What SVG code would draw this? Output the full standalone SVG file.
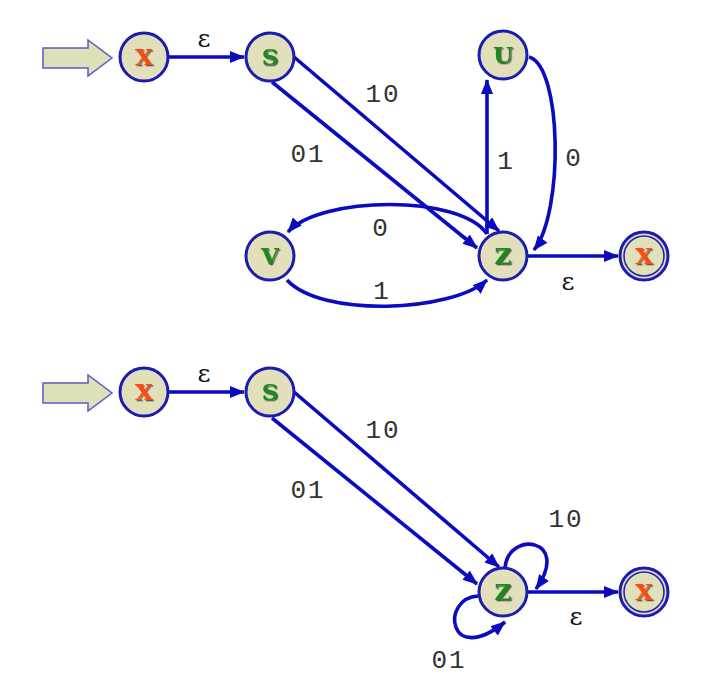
<svg xmlns="http://www.w3.org/2000/svg" width="716" height="678" viewBox="0 0 716 678">
<style>
.node{fill:#e2e0ba;stroke:#1c1cb0;stroke-width:3}
.fin{fill:none;stroke:#1c1cb0;stroke-width:1.5}
.edge{fill:none;stroke:#0a0ac0;stroke-width:3.6}
.lx{font-family:"DejaVu Serif",serif;font-weight:bold;font-size:23px;text-anchor:middle;fill:#ff4a10;filter:url(#ds)}
.lg{font-family:"DejaVu Serif",serif;font-weight:bold;font-size:23px;text-anchor:middle;fill:#1e8c1e;filter:url(#ds)}
.num{font-family:"Liberation Mono",monospace;font-size:26px;fill:#333;text-anchor:middle;letter-spacing:2px}
.eps{font-family:"DejaVu Serif",serif;font-size:25px;fill:#111;text-anchor:middle}
.inp{fill:#dfe0b8;stroke:#5a5ac8;stroke-width:1.5}
</style>
<defs>
<filter id="ds" x="-30%" y="-30%" width="160%" height="160%">
<feDropShadow dx="1.3" dy="1.3" stdDeviation="0.4" flood-color="#333" flood-opacity="0.8"/>
</filter>
<marker id="ah" markerUnits="userSpaceOnUse" markerWidth="16" markerHeight="14" refX="14" refY="6" orient="auto">
<path d="M0,0 L15,6 L0,12 z" fill="#0a0ac0"/>
</marker>
</defs>
<g id="connectors">
<path class="edge" d="M168,57 L244,57" marker-end="url(#ah)"/>
<path class="edge" d="M294,57 L499,231" marker-end="url(#ah)"/>
<path class="edge" d="M272,82 L477,248" marker-end="url(#ah)"/>
<path class="edge" d="M487,234 L487,80" marker-end="url(#ah)"/>
<path class="edge" d="M529,57 C562,66 564,212 534,250" marker-end="url(#ah)"/>
<path class="edge" d="M487,234 C460,194 320,196 288,232" marker-end="url(#ah)"/>
<path class="edge" d="M287,280 C322,318 452,312 487,280" marker-end="url(#ah)"/>
<path class="edge" d="M527,256 L618,256" marker-end="url(#ah)"/>
<path class="edge" d="M168,392 L244,392" marker-end="url(#ah)"/>
<path class="edge" d="M294,392 L499,567" marker-end="url(#ah)"/>
<path class="edge" d="M272,418 L477,584" marker-end="url(#ah)"/>
<path class="edge" d="M505,568 C508,530 572,538 536,589" marker-end="url(#ah)"/>
<path class="edge" d="M478,596 C440,598 448,668 505,622" marker-end="url(#ah)"/>
<path class="edge" d="M527,592 L618,592" marker-end="url(#ah)"/>
<g>
<text class="eps" x="204" y="47">ε</text>
<text class="num" x="383" y="102">10</text>
<text class="num" x="308" y="162">01</text>
<text class="num" x="506" y="169">1</text>
<text class="num" x="574" y="166">0</text>
<text class="num" x="381" y="236">0</text>
<text class="num" x="382" y="299">1</text>
<text class="eps" x="568" y="290">ε</text>
<text class="eps" x="204" y="382">ε</text>
<text class="num" x="383" y="438">10</text>
<text class="num" x="308" y="498">01</text>
<text class="num" x="566" y="527">10</text>
<text class="num" x="449" y="668">01</text>
<text class="eps" x="576" y="625">ε</text>
</g>
</g>
<g id="input1"><path class="inp" d="M43,48 L88,48 L88,40 L112,58 L88,76 L88,68 L43,68 z"/></g>
<g id="input2"><path class="inp" d="M43,383 L88,383 L88,375 L112,393 L88,411 L88,403 L43,403 z"/></g>
<g id="x1"><circle class="node" cx="144" cy="57" r="24"/><text class="lx" x="144" y="65">X</text></g>
<g id="s1"><circle class="node" cx="270" cy="57" r="24"/><text class="lg" x="270" y="65">S</text></g>
<g id="u1"><circle class="node" cx="503" cy="55" r="24"/><text class="lg" x="503" y="63">U</text></g>
<g id="v1"><circle class="node" cx="270" cy="256" r="24"/><text class="lg" x="270" y="264">V</text></g>
<g id="z1"><circle class="node" cx="503" cy="256" r="24"/><text class="lg" x="503" y="264">Z</text></g>
<g id="xf1"><circle class="node" cx="644" cy="256" r="24"/><circle class="fin" cx="644" cy="256" r="20"/><text class="lx" x="644" y="264">X</text></g>
<g id="x2"><circle class="node" cx="144" cy="392" r="24"/><text class="lx" x="144" y="400">X</text></g>
<g id="s2"><circle class="node" cx="270" cy="392" r="24"/><text class="lg" x="270" y="400">S</text></g>
<g id="z2"><circle class="node" cx="503" cy="592" r="24"/><text class="lg" x="503" y="600">Z</text></g>
<g id="xf2"><circle class="node" cx="644" cy="592" r="24"/><circle class="fin" cx="644" cy="592" r="20"/><text class="lx" x="644" y="600">X</text></g>
</svg>
